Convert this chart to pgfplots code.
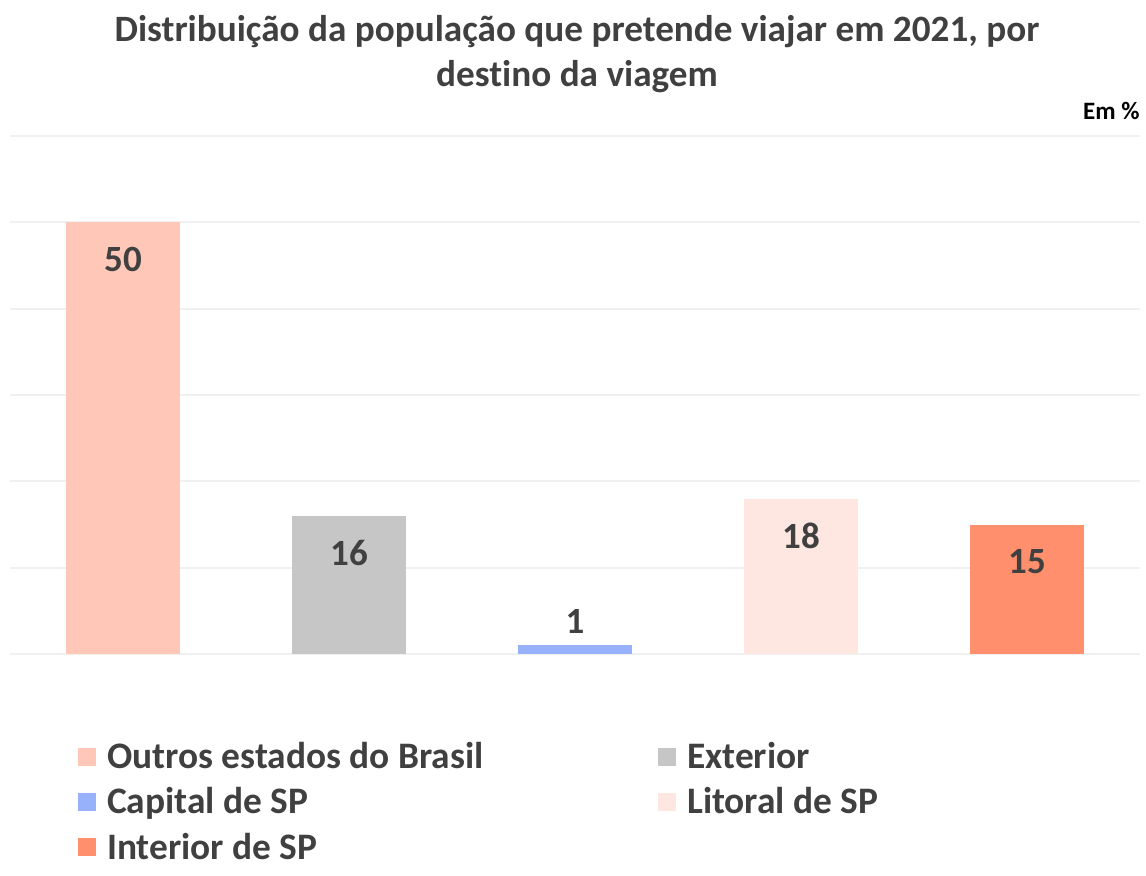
\documentclass[border=0pt]{standalone}
\usepackage{pgfplots}
\pgfplotsset{compat=1.18}
\usepackage{fontspec}
\setmainfont[Ligatures=NoCommon]{Carlito}
\definecolor{txt}{HTML}{404040}
\definecolor{cOutros}{HTML}{FFC7B8}
\definecolor{cExt}{HTML}{C6C6C6}
\definecolor{cCap}{HTML}{97B1FB}
\definecolor{cLit}{HTML}{FFE7E1}
\definecolor{cInt}{HTML}{FF8F6D}
\definecolor{gridc}{HTML}{F0F0F0}
\begin{document}
\begin{tikzpicture}
\useasboundingbox (0,0) rectangle (573pt,437.5pt);
\node[anchor=base, font=\fontsize{18.6}{22}\selectfont\bfseries, text=txt, inner sep=0pt] at (288.5pt,416.5pt) {Distribuição da população que pretende viajar em 2021, por};
\node[anchor=base, font=\fontsize{18.6}{22}\selectfont\bfseries, text=txt, inner sep=0pt] at (288.5pt,394pt) {destino da viagem};
\node[anchor=base east, font=\fontsize{12.5}{14}\selectfont\bfseries, text=black, inner sep=0pt] at (570pt,377.5pt) {Em \%};
\begin{axis}[
  at={(5pt,110.5pt)}, anchor=south west,
  scale only axis, width=565pt, height=259pt,
  xmin=-0.5, xmax=4.5, ymin=0, ymax=60,
  ytick={0,10,...,60}, xtick=\empty,
  yticklabels={},
  ymajorgrids, grid style={draw=gridc, line width=1pt},
  axis line style={draw=none}, major tick style={draw=none},
  clip=false,
  /pgf/number format/assume math mode=true,
  legend columns=2,
  legend cell align=left,
  legend style={draw=none, fill=none, at={(0.060,-0.162)}, anchor=north west,
    inner sep=0pt, font=\fontsize{18.7}{22}\selectfont\bfseries, text=txt,
    row sep=4pt,
    /tikz/every odd column/.append style={column sep=3.5pt},
    /tikz/every even column/.append style={column sep=0pt}},
  legend image code/.code={\fill[#1] (0pt,-4.5pt) rectangle (9pt,4.5pt);},
  nodes near coords,
  every node near coord/.append style={font=\fontsize{18.5}{20}\selectfont\bfseries, text=txt, anchor=center},
]
\addplot[ybar, bar shift=0pt, bar width=57pt, fill=cOutros, draw=none,
  every node near coord/.append style={yshift=-18.5pt}] coordinates {(0,50)};
\addlegendentry{\makebox[273.5pt][l]{Outros estados do Brasil}}
\addplot[ybar, bar shift=0pt, bar width=57pt, fill=cExt, draw=none,
  every node near coord/.append style={yshift=-18.5pt}] coordinates {(1,16)};
\addlegendentry{Exterior}
\addplot[ybar, bar shift=0pt, bar width=57pt, fill=cCap, draw=none,
  every node near coord/.append style={yshift=12pt}] coordinates {(2,1)};
\addlegendentry{Capital de SP}
\addplot[ybar, bar shift=0pt, bar width=57pt, fill=cLit, draw=none,
  every node near coord/.append style={yshift=-18.5pt}] coordinates {(3,18)};
\addlegendentry{Litoral de SP}
\addplot[ybar, bar shift=0pt, bar width=57pt, fill=cInt, draw=none,
  every node near coord/.append style={yshift=-18.5pt}] coordinates {(4,15)};
\addlegendentry{Interior de SP}
\end{axis}
\end{tikzpicture}
\end{document}
